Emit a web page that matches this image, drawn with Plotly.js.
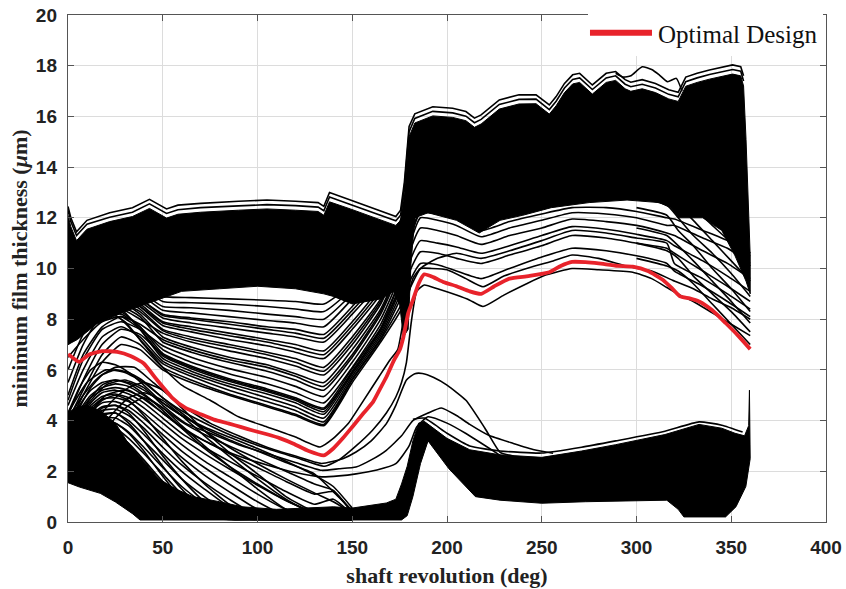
<!DOCTYPE html>
<html>
<head>
<meta charset="utf-8">
<script src="https://cdn.plot.ly/plotly-3.0.1.min.js"></script>
<style>html,body{margin:0;padding:0;background:#fff}</style>
</head>
<body>
<div id="chart" style="width:846px;height:589px"></div>
<script>
// ---------- axis ticks ----------
const xTicks = [0, 50, 100, 150, 200, 250, 300, 350, 400];
const yTicks = [0, 2, 4, 6, 8, 10, 12, 14, 16, 18, 20];

// ---------- optimal design (red) ----------
const optX = [0, 3, 6, 11, 18, 26, 33, 40, 47, 55, 62, 70, 77, 85, 91, 98, 105, 112, 119, 127, 135, 140, 145, 150, 156, 161, 165, 168, 172, 175, 177, 179.5, 182, 185, 188, 193, 198, 205, 212, 218, 225, 233, 243, 254, 260, 266, 273, 280, 290, 298, 306, 314, 319, 323, 328, 333, 340, 347, 353, 360];
const optY = [6.62, 6.45, 6.32, 6.6, 6.74, 6.71, 6.55, 6.25, 5.6, 4.9, 4.5, 4.25, 4.04, 3.88, 3.75, 3.6, 3.46, 3.3, 3.09, 2.8, 2.63, 2.9, 3.3, 3.75, 4.3, 4.74, 5.3, 5.72, 6.38, 6.78, 7.3, 8.23, 8.75, 9.4, 9.77, 9.65, 9.47, 9.3, 9.1, 9.0, 9.3, 9.6, 9.7, 9.85, 10.1, 10.26, 10.25, 10.2, 10.1, 10.07, 9.9, 9.55, 9.2, 8.9, 8.82, 8.7, 8.35, 7.85, 7.4, 6.82];

// ---------- crest of the upper bundle ----------
const crestX = [0, 1.5, 4.5, 10, 22, 34, 43, 48, 52, 58, 70, 90, 105, 120, 132, 135, 138, 149, 161, 173, 175.5, 177.5, 180, 183, 192.5, 203, 210, 214.5, 218, 227.6, 238, 247, 254, 257.6, 262, 266.3, 270, 276.7, 284, 289, 294, 297, 303, 310, 317, 322, 326, 332, 338.5, 345, 350.7, 355, 356.5];
const crest1 = [12.45, 12.0, 11.45, 11.9, 12.2, 12.4, 12.73, 12.5, 12.35, 12.5, 12.57, 12.65, 12.7, 12.65, 12.6, 12.45, 13.0, 12.7, 12.37, 12.05, 12.3, 13.4, 15.6, 16.1, 16.38, 16.32, 16.19, 15.93, 16.06, 16.65, 16.85, 16.85, 16.45, 16.78, 17.3, 17.64, 17.7, 17.24, 17.7, 17.77, 17.45, 17.35, 17.45, 17.3, 17.05, 16.95, 17.55, 17.7, 17.83, 17.95, 18.03, 17.96, 17.6];
const crest2 = [12.3, 11.85, 11.3, 11.75, 12.02, 12.22, 12.55, 12.33, 12.17, 12.32, 12.4, 12.47, 12.52, 12.48, 12.42, 12.28, 12.82, 12.52, 12.2, 11.88, 12.1, 13.2, 15.4, 15.92, 16.2, 16.14, 16.01, 15.75, 15.88, 16.47, 16.67, 16.68, 16.27, 16.6, 17.12, 17.46, 17.52, 17.06, 17.52, 17.6, 17.27, 17.17, 17.27, 17.12, 16.87, 16.77, 17.37, 17.52, 17.65, 17.77, 17.85, 17.78, 17.4];
const crest3 = [12.1, 11.65, 11.1, 11.55, 11.85, 12.05, 12.37, 12.15, 11.99, 12.14, 12.22, 12.3, 12.35, 12.3, 12.25, 12.1, 12.63, 12.35, 12.02, 11.7, 11.9, 13.0, 15.2, 15.74, 16.02, 15.96, 15.83, 15.57, 15.7, 16.29, 16.49, 16.5, 16.09, 16.42, 16.94, 17.28, 17.34, 16.88, 17.34, 17.42, 17.09, 16.99, 17.09, 16.94, 16.69, 16.59, 17.19, 17.34, 17.47, 17.59, 17.67, 17.6, 17.2];
const outlierX = [289, 293, 297, 303, 308, 312, 316.4, 321, 324];
const outlierY = [17.7, 17.55, 17.6, 17.96, 17.85, 17.64, 17.37, 17.5, 17.0];

// dense upper bundle: right edge and underside
const coreEdgeX = [357.8, 359.6, 360];
const coreEdgeY = [15.1, 11.9, 10.5];
const coreBaseX = [360, 357.8, 352, 345, 335, 322, 318, 312, 295, 275, 255, 240, 228, 217, 205, 190, 183, 181, 179.5, 177, 175, 172, 165, 150, 140, 135, 120, 100, 80, 60, 45, 30, 15, 5, 0];
const coreBaseY = [9.0, 9.5, 10.5, 11.5, 12.0, 12.0, 12.4, 12.6, 12.7, 12.6, 12.4, 12.1, 11.9, 11.4, 11.9, 12.2, 12.0, 10.2, 7.6, 7.3, 8.6, 9.1, 8.8, 8.6, 8.9, 9.0, 9.2, 9.3, 9.2, 9.1, 8.7, 8.3, 7.8, 7.2, 7.0];

// dense lower bundle
const lowTopX = [0, 5, 10, 17, 25, 31, 40, 48, 57, 66, 80, 92, 110, 130, 140, 150, 160, 168, 173, 176, 179, 182, 185, 188, 200, 212, 228, 250, 271, 289, 315, 333, 345, 352, 357, 359.2, 359.6, 360];
const lowTopY = [4.3, 4.55, 4.6, 4.4, 3.9, 3.2, 2.4, 1.7, 1.3, 1.0, 0.8, 0.6, 0.5, 0.55, 0.6, 0.55, 0.65, 0.75, 0.9, 1.5, 2.2, 3.2, 3.9, 3.97, 3.3, 2.85, 2.65, 2.55, 2.8, 3.05, 3.45, 3.85, 3.7, 3.5, 3.4, 3.8, 5.2, 3.2];
const lowBaseX = [360, 357.7, 352.5, 347, 325, 322, 316, 273, 250, 228, 215, 201, 190, 186, 182, 179, 176, 38, 34, 25, 17, 6, 0];
const lowBaseY = [2.5, 1.4, 0.6, 0.2, 0.2, 0.5, 0.86, 0.8, 0.74, 0.86, 1.0, 2.1, 3.2, 2.3, 1.0, 0.25, 0.08, 0.08, 0.33, 0.79, 1.13, 1.38, 1.55];
const lowEdgeX = [182, 188, 200, 212, 228, 250, 271, 289, 315, 333, 345, 356];
const lowEdgeY = [4.05, 4.1, 3.5, 3.0, 2.8, 2.72, 2.95, 3.2, 3.58, 3.95, 3.82, 3.55];

// ---------- middle bundle (0-186 deg) ----------
const bandX = [0, 8, 18, 28, 38, 50, 65, 85, 105, 120, 135, 150, 165, 176, 181, 186];
const band01 = [4.2, 5.6, 7.0, 7.6, 7.4, 6.6, 6.1, 5.6, 5.2, 4.85, 4.45, 5.9, 7.6, 9.4, 11.2, 12.6];
const band02 = [8.2, 8.5, 8.6, 8.3, 7.7, 6.8, 6.3, 5.85, 5.45, 5.1, 4.7, 6.1, 7.8, 9.7, 11.5, 12.8];
const band03 = [4.8, 6.4, 7.6, 7.9, 7.6, 6.95, 6.5, 6.05, 5.7, 5.35, 4.95, 6.3, 8.0, 9.9, 11.8, 13.0];
const band04 = [7.6, 8.0, 8.3, 8.5, 8.1, 7.1, 6.7, 6.3, 5.95, 5.6, 5.2, 6.5, 8.2, 10.1, 12.0, 13.2];
const band05 = [8.8, 8.6, 8.9, 8.7, 8.2, 7.3, 6.9, 6.5, 6.2, 5.85, 5.5, 6.8, 8.4, 10.3, 12.2, 13.4];
const band06 = [5.5, 7.0, 8.2, 8.4, 8.0, 7.45, 7.1, 6.75, 6.45, 6.15, 5.8, 7.0, 8.6, 10.5, 12.4, 13.6];
const band07 = [9.2, 9.0, 8.9, 8.8, 8.4, 7.6, 7.3, 7.0, 6.7, 6.45, 6.1, 7.3, 8.8, 10.7, 12.6, 13.8];
const band08 = [8.0, 8.4, 8.7, 8.9, 8.5, 7.75, 7.5, 7.2, 6.95, 6.7, 6.45, 7.6, 9.0, 10.9, 12.8, 14.0];
const band09 = [9.5, 9.3, 9.2, 9.0, 8.6, 7.9, 7.7, 7.45, 7.2, 7.0, 6.75, 7.9, 9.3, 11.1, 13.0, 14.2];
const band10 = [7.2, 7.8, 8.5, 8.9, 8.7, 8.05, 7.85, 7.65, 7.45, 7.3, 7.1, 8.2, 9.5, 11.3, 13.2, 14.4];
const band11 = [9.8, 9.6, 9.4, 9.2, 8.8, 8.2, 8.05, 7.9, 7.7, 7.6, 7.4, 8.5, 9.8, 11.5, 13.4, 14.6];
const band12 = [8.6, 8.9, 9.3, 9.3, 9.0, 8.35, 8.25, 8.1, 7.95, 7.85, 7.7, 8.8, 10.0, 11.7, 13.6, 14.8];
const band13 = [10.0, 9.8, 9.6, 9.4, 9.1, 8.5, 8.45, 8.35, 8.2, 8.1, 8.0, 9.0, 10.2, 11.8, 13.8, 15.0];
const band14 = [9.0, 9.4, 9.7, 9.6, 9.3, 8.7, 8.65, 8.6, 8.5, 8.4, 8.3, 9.2, 10.4, 11.9, 14.0, 15.2];
const band15 = [10.3, 10.0, 9.8, 9.7, 9.4, 8.9, 8.85, 8.8, 8.75, 8.7, 8.6, 9.4, 10.5, 12.0, 14.2, 15.4];
const band16 = [5.0, 6.6, 7.7, 8.1, 7.8, 7.2, 6.8, 6.4, 6.1, 5.75, 5.35, 6.6, 8.3, 10.2, 12.1, 13.3];
const band17 = [6.0, 7.4, 8.3, 8.6, 8.3, 7.55, 7.2, 6.9, 6.6, 6.3, 5.95, 7.15, 8.7, 10.6, 12.5, 13.7];
const band18 = [7.0, 7.9, 8.6, 8.8, 8.5, 7.85, 7.6, 7.35, 7.1, 6.85, 6.6, 7.75, 9.15, 11.0, 12.9, 14.1];
const band19 = [8.3, 8.8, 9.1, 9.1, 8.8, 8.15, 8.0, 7.8, 7.6, 7.45, 7.25, 8.35, 9.65, 11.4, 13.3, 14.5];

// ---------- curves running below the upper bundle on the right ----------
const fullX = [0, 8, 18, 28, 38, 50, 65, 85, 105, 120, 135, 150, 165, 176, 181, 186, 195, 205, 218, 233, 250, 266, 284, 300, 316, 320, 335, 348, 360];
const gap0 = [4.0, 5.2, 6.6, 7.3, 7.0, 6.1, 5.6, 5.05, 4.6, 4.25, 3.85, 5.6, 7.2, 8.6, 9.6, 10.2, 10.15, 9.9, 9.6, 10.0, 10.45, 10.8, 10.7, 10.5, 10.2, 9.9, 9.3, 8.7, 8.1];
const gap1 = [7.9, 8.2, 8.4, 8.0, 7.2, 6.25, 5.75, 5.2, 4.75, 4.4, 3.95, 5.65, 7.25, 8.9, 10.0, 10.66, 10.6, 10.4, 10.2, 10.53, 10.9, 11.3, 11.2, 11.0, 10.8, 10.6, 9.9, 9.3, 8.7];
const gap2 = [4.6, 6.0, 7.3, 7.7, 7.3, 6.35, 5.85, 5.35, 4.9, 4.55, 4.1, 5.75, 7.35, 9.1, 10.4, 11.1, 11.0, 10.85, 10.6, 10.9, 11.3, 11.65, 11.55, 11.35, 11.1, 10.9, 10.3, 9.7, 9.1];
const gap3 = [8.4, 8.7, 8.8, 8.4, 7.6, 6.45, 5.95, 5.45, 5.05, 4.7, 4.25, 5.85, 7.45, 9.3, 10.8, 11.6, 11.5, 11.3, 10.95, 11.3, 11.6, 11.95, 11.85, 11.7, 11.4, 11.3, 10.7, 10.2, 9.6];
const gap4 = [6.5, 7.2, 7.9, 8.1, 7.6, 6.55, 6.05, 5.55, 5.15, 4.8, 4.35, 5.95, 7.55, 9.5, 11.1, 12.0, 11.9, 11.7, 11.25, 11.6, 11.9, 12.2, 12.15, 12.0, 11.7, 11.7, 11.2, 10.8, 10.2];
const gap5 = [7.0, 7.6, 8.1, 8.2, 7.7, 6.65, 6.15, 5.65, 5.25, 4.9, 4.5, 6.05, 7.65, 9.7, 11.3, 12.2, 12.15, 11.95, 11.5, 11.85, 12.15, 12.4, 12.4, 12.25, 12.0, 11.95, 11.5, 11.1, 10.5];
const gap6 = [3.8, 5.0, 6.3, 7.0, 6.8, 6.0, 5.5, 5.0, 4.55, 4.2, 3.8, 5.5, 7.1, 8.4, 9.3, 10.0, 10.4, 10.6, 10.4, 10.7, 11.1, 11.5, 11.4, 11.2, 11.0, 10.2, 9.6, 9.0, 8.4];

// curves just above and below the optimal design
const upperTwinX = [0, 10, 20, 30, 40, 50, 60, 75, 90, 105, 120, 133, 140, 148, 156, 164, 170, 174, 178, 182, 186, 192, 200, 210, 219, 230, 245, 256, 266, 280, 296, 308, 319, 330, 340, 350, 360];
const upperTwinY = [7.8, 8.1, 8.3, 7.9, 7.0, 6.1, 5.4, 4.8, 4.15, 3.75, 3.35, 2.96, 3.3, 3.9, 4.8, 5.72, 6.4, 6.8, 8.4, 9.6, 10.0, 10.0, 9.95, 9.6, 9.28, 9.7, 10.07, 10.3, 10.53, 10.4, 10.07, 9.9, 9.54, 9.2, 8.8, 8.45, 8.0];
const lowerTwinX = [0, 10, 20, 30, 40, 50, 62, 75, 90, 105, 120, 135.5, 143, 152, 160.7, 168, 173, 176, 178.6, 181, 184, 188, 195, 205, 212, 219, 230, 242, 252, 266, 280, 298, 308, 316, 323, 330, 340, 350, 360];
const lowerTwinY = [4.3, 5.5, 6.0, 5.9, 5.5, 4.9, 4.3, 3.8, 3.3, 2.9, 2.55, 2.2, 2.45, 3.0, 3.62, 4.3, 4.93, 5.5, 6.3, 7.8, 9.1, 9.35, 9.2, 8.95, 8.75, 8.5, 8.95, 9.4, 9.74, 10.0, 9.95, 9.85, 9.6, 9.25, 8.95, 8.7, 8.25, 7.8, 7.35];

// curves that drop from the lower-left fan into the lower bundle
const s1X = [0, 8, 16, 25, 35, 45, 60, 75, 90, 105, 120, 133.8, 145, 152, 160, 168, 173, 178.6, 183, 187, 193, 200, 210, 220, 228, 235];
const s1Y = [4.1, 5.0, 5.7, 6.1, 6.1, 5.5, 4.6, 3.9, 3.4, 2.95, 2.6, 2.31, 2.5, 2.76, 3.2, 3.88, 4.6, 5.6, 5.85, 5.86, 5.7, 5.4, 4.8, 3.7, 2.75, 2.6];
const s2X = [0, 10, 20, 30, 40, 50, 62, 75, 90, 105, 120, 133.8, 143, 152, 160, 168, 176, 182, 190, 197, 205, 212, 222, 235, 246, 256];
const s2Y = [3.2, 4.6, 5.4, 5.6, 5.3, 4.6, 3.9, 3.5, 3.05, 2.7, 2.35, 2.04, 2.1, 2.17, 2.45, 2.83, 3.4, 4.0, 4.3, 4.5, 4.2, 3.85, 3.42, 3.1, 2.85, 2.71];
const s3X = [0, 10, 20, 30, 40, 50, 62, 75, 90, 105, 120, 133.8, 143, 152, 163, 173, 180, 184, 190, 200, 210, 228];
const s3Y = [2.8, 4.2, 5.0, 5.2, 4.9, 4.3, 3.6, 3.1, 2.6, 2.25, 1.95, 1.78, 1.82, 1.9, 2.05, 2.3, 3.0, 3.75, 4.15, 3.9, 3.49, 2.63];

// ---------- lower-left fan ----------
const fanX = [0, 6, 12, 18, 25, 32, 40, 50, 60, 72, 85, 100, 115, 130, 140, 150];
const fan01 = [3.9, 4.6, 5.2, 5.5, 5.6, 5.5, 5.2, 4.7, 4.2, 3.7, 3.25, 2.8, 2.35, 1.9, 1.2, 0.45];
const fan02 = [3.7, 4.4, 5.0, 5.3, 5.45, 5.35, 5.0, 4.5, 3.95, 3.45, 3.0, 2.5, 2.0, 1.5, 1.25, 0.4];
const fan03 = [3.5, 4.3, 4.9, 5.2, 5.3, 5.2, 4.85, 4.3, 3.75, 3.2, 2.7, 2.15, 1.6, 1.1, 1.2, 0.35];
const fan04 = [3.4, 4.1, 4.7, 5.1, 5.2, 5.05, 4.7, 4.1, 3.5, 2.95, 2.4, 1.8, 1.2, 0.7, 0.9, 0.3];
const fan05 = [3.3, 4.0, 4.6, 4.95, 5.05, 4.9, 4.5, 3.9, 3.3, 2.7, 2.1, 1.45, 0.85, 0.4, 0.5, 0.25];
const fan06 = [3.1, 3.9, 4.5, 4.85, 4.9, 4.75, 4.3, 3.65, 3.05, 2.4, 1.8, 1.1, 0.5, 0.2, 0.2, 0.2];
const fan07 = [3.0, 3.7, 4.3, 4.7, 4.75, 4.55, 4.1, 3.45, 2.8, 2.15, 1.5, 0.8, 0.25, 0.15, 0.15, 0.15];
const fan08 = [2.8, 3.6, 4.2, 4.55, 4.6, 4.4, 3.9, 3.2, 2.55, 1.85, 1.2, 0.5, 0.15, 0.12, 0.12, 0.12];
const fan09 = [2.7, 3.4, 4.0, 4.4, 4.45, 4.2, 3.7, 2.95, 2.25, 1.55, 0.9, 0.25, 0.12, 0.1, 0.1, 0.1];
const fan10 = [2.5, 3.3, 3.9, 4.25, 4.3, 4.0, 3.45, 2.7, 2.0, 1.3, 0.6, 0.15, 0.1, 0.1, 0.1, 0.1];
const fan11 = [2.4, 3.1, 3.7, 4.1, 4.1, 3.8, 3.2, 2.45, 1.7, 1.0, 0.35, 0.12, 0.1, 0.1, 0.1, 0.1];
const fan12 = [2.2, 3.0, 3.6, 3.95, 3.9, 3.55, 2.95, 2.15, 1.4, 0.7, 0.2, 0.1, 0.1, 0.1, 0.1, 0.1];
const fan13 = [2.1, 2.8, 3.4, 3.75, 3.7, 3.3, 2.7, 1.9, 1.1, 0.45, 0.12, 0.1, 0.1, 0.1, 0.1, 0.1];
const fan14 = [1.9, 2.7, 3.3, 3.6, 3.5, 3.1, 2.45, 1.6, 0.85, 0.25, 0.1, 0.1, 0.1, 0.1, 0.1, 0.1];
const fan15 = [1.8, 2.5, 3.2, 3.8, 4.4, 4.9, 5.1, 4.8, 4.2, 3.4, 2.6, 1.7, 0.9, 0.3, 0.15, 0.1];
const fan16 = [1.7, 2.3, 2.9, 3.5, 4.1, 4.6, 4.9, 4.5, 3.8, 3.0, 2.2, 1.3, 0.5, 0.15, 0.1, 0.1];
const fan17 = [2.0, 2.8, 3.6, 4.3, 4.9, 5.3, 5.5, 5.2, 4.5, 3.6, 2.75, 1.9, 1.0, 0.4, 0.2, 0.1];
const fan18 = [4.3, 5.3, 6.0, 6.3, 6.2, 5.9, 5.4, 4.7, 4.2, 3.75, 3.35, 2.9, 2.4, 1.85, 1.4, 0.55];
const fan19 = [2.6, 3.5, 4.3, 4.8, 5.0, 4.8, 4.2, 3.3, 2.4, 1.5, 0.7, 0.15, 0.1, 0.1, 0.1, 0.1];
const fan20 = [2.3, 3.2, 4.0, 4.5, 4.6, 4.3, 3.6, 2.6, 1.7, 0.8, 0.2, 0.1, 0.1, 0.1, 0.1, 0.1];
const fan21 = [2.0, 2.9, 3.7, 4.2, 4.3, 3.9, 3.2, 2.2, 1.3, 0.45, 0.12, 0.1, 0.1, 0.1, 0.1, 0.1];
const fan22 = [1.8, 2.6, 3.4, 3.9, 3.9, 3.5, 2.8, 1.8, 0.9, 0.2, 0.1, 0.1, 0.1, 0.1, 0.1, 0.1];
const fan23 = [3.6, 4.5, 5.3, 5.8, 6.0, 5.9, 5.55, 4.9, 4.3, 3.6, 2.95, 2.3, 1.7, 1.15, 0.8, 0.35];
const fan24 = [3.2, 4.1, 4.9, 5.4, 5.6, 5.45, 5.05, 4.4, 3.7, 2.9, 2.2, 1.5, 0.85, 0.35, 0.2, 0.1];

// ---------- tails leaving the upper bundle at the end of the cycle ----------
const tailX = [300, 316, 322, 330, 340, 350, 360];
const tail1 = [12.8, 12.5, 12.0, 11.3, 10.6, 9.8, 8.9];
const tail2 = [13.2, 12.9, 12.5, 11.9, 11.1, 10.3, 9.5];
const tail3 = [13.6, 13.3, 12.9, 12.4, 11.7, 11.0, 10.1];
const tail4 = [12.4, 12.1, 11.5, 10.9, 10.0, 9.2, 8.3];
const tail5 = [14.0, 13.7, 13.4, 12.9, 12.3, 11.5, 10.6];
const tail6 = [10.4, 10.1, 9.9, 9.4, 8.6, 7.8, 7.0];
const tail7 = [11.0, 10.7, 10.4, 9.7, 9.0, 8.3, 7.5];
const tail8 = [11.6, 11.3, 10.9, 10.3, 9.5, 8.7, 7.85];

// ---------- trace builders ----------
const INK = '#000000';
const LW = 1.6;
function curve(x, y, w, shape) {
  return {type: 'scatter', mode: 'lines', x: x, y: y, hoverinfo: 'skip', showlegend: false,
          line: {color: INK, width: w, shape: shape || 'spline', smoothing: 0.5}};
}
function region(x, y) {
  return {type: 'scatter', mode: 'lines', x: x, y: y, fill: 'toself', fillcolor: INK,
          hoverinfo: 'skip', showlegend: false, line: {color: INK, width: 1}};
}

const traces = [];
traces.push(region(crestX.concat(coreEdgeX, coreBaseX), crest3.concat(coreEdgeY, coreBaseY)));
traces.push(region(lowTopX.concat(lowBaseX), lowTopY.concat(lowBaseY)));
traces.push(curve(crestX, crest1, LW, 'linear'));
traces.push(curve(crestX, crest2, LW, 'linear'));
traces.push(curve(outlierX, outlierY, LW));
traces.push(curve(lowEdgeX, lowEdgeY, LW));
[band01, band02, band03, band04, band05, band06, band07, band08, band09, band10,
 band11, band12, band13, band14, band15, band16, band17, band18, band19]
  .forEach(y => traces.push(curve(bandX, y, LW)));
[gap0, gap1, gap2, gap3, gap4, gap5, gap6].forEach(y => traces.push(curve(fullX, y, LW)));
[fan01, fan02, fan03, fan04, fan05, fan06, fan07, fan08, fan09, fan10, fan11, fan12,
 fan13, fan14, fan15, fan16, fan17, fan18, fan19, fan20, fan21, fan22, fan23, fan24]
  .forEach(y => traces.push(curve(fanX, y, LW)));
[tail1, tail2, tail3, tail4, tail5, tail6, tail7, tail8].forEach(y => traces.push(curve(tailX, y, LW)));
traces.push(curve(s1X, s1Y, LW));
traces.push(curve(s2X, s2Y, LW));
traces.push(curve(s3X, s3Y, LW));
traces.push(curve(upperTwinX, upperTwinY, LW));
traces.push(curve(lowerTwinX, lowerTwinY, LW));
traces.push({type: 'scatter', mode: 'lines', name: 'Optimal Design', x: optX, y: optY,
             hoverinfo: 'skip', showlegend: true,
             line: {color: '#e8232b', width: 3.8, shape: 'spline', smoothing: 0.5}});

const tickFont = {family: 'Liberation Sans, Arial, sans-serif', size: 19, color: '#222', weight: 'bold'};
const titleFont = {family: 'Liberation Serif, Times New Roman, serif', size: 22, color: '#222', weight: 'bold'};
const axisCommon = {
  ticks: 'inside', ticklen: 6, tickwidth: 1, tickcolor: '#555',
  showline: true, linecolor: '#555', linewidth: 1.2, mirror: 'ticks',
  showgrid: true, gridcolor: '#dcdcdc', gridwidth: 1, zeroline: false,
  tickfont: tickFont, fixedrange: true
};

const layout = {
  width: 846, height: 589,
  margin: {l: 68, r: 20, t: 15, b: 67, autoexpand: false},
  paper_bgcolor: '#ffffff', plot_bgcolor: '#ffffff',
  showlegend: true,
  legend: {x: 0.686, xref: 'paper', y: 0.983, yref: 'container', xanchor: 'left', yanchor: 'top',
           bgcolor: 'rgba(255,255,255,1)', borderwidth: 0, itemwidth: 60,
           font: {family: 'Liberation Serif, Times New Roman, serif', size: 25, color: '#111'}},
  xaxis: Object.assign({}, axisCommon, {
    range: [0, 400], tickvals: xTicks, ticktext: xTicks.map(String), ticklabelstandoff: 8,
    title: {text: 'shaft revolution (deg)', font: titleFont, standoff: 10}
  }),
  yaxis: Object.assign({}, axisCommon, {
    range: [0, 20], tickvals: yTicks, ticktext: yTicks.map(String), ticklabelstandoff: 6,
    title: {text: 'minimum film thickness (<i>μ</i>m)', font: titleFont, standoff: 2}
  })
};

Plotly.newPlot('chart', traces, layout, {displayModeBar: false, staticPlot: true}).then(function (gd) {
  // longer, heavier key sample for the legend entry
  gd.querySelectorAll('.legend .legendlines path').forEach(function (p) {
    p.setAttribute('d', 'M2,0h62');
    p.style.strokeWidth = '6px';
  });
});
</script>
</body>
</html>
